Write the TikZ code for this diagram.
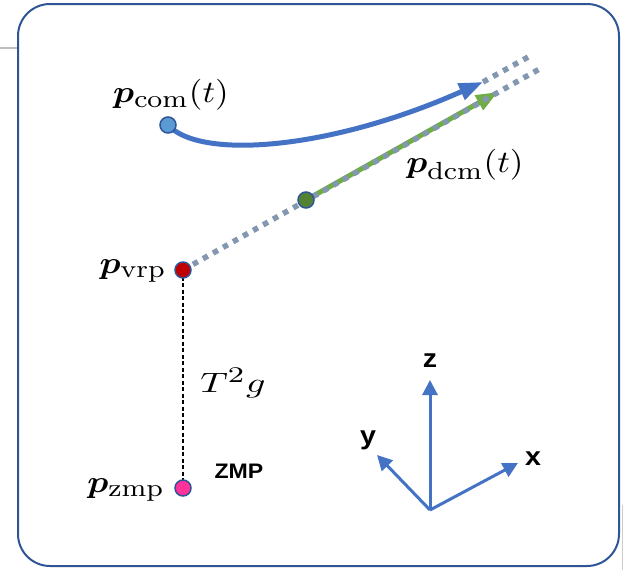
\documentclass[tikz,border=0pt]{standalone}
\usepackage{amsmath}
\usepackage{bm}
\usepackage{fontspec}
\newfontfamily\sansb{Liberation Sans}
\DeclareMathSizes{10}{10}{8}{6}
\usetikzlibrary{arrows.meta}
\definecolor{frameblue}{HTML}{2F5597}
\definecolor{curveblue}{HTML}{4472C4}
\definecolor{lightblue}{HTML}{5B9BD5}
\definecolor{dotgray}{HTML}{8497B0}
\definecolor{dcmgreen}{HTML}{70AD47}
\definecolor{darkgreen}{HTML}{548235}
\definecolor{vrpred}{HTML}{C00000}
\definecolor{zmppink}{HTML}{FF3399}
\tikzset{
  pt/.style={circle, draw=frameblue, line width=1.5pt, minimum size=16pt, inner sep=0pt},
  dotline/.style={dotgray, line width=5.5pt, dash pattern=on 5.5pt off 6pt},
  axis/.style={curveblue, line width=3pt, -{Triangle[length=15pt,width=15pt]}},
  mlabel/.style={inner sep=0pt, font=\fontsize{10}{12}\selectfont, xscale=3.5, yscale=3.1},
  tlabel/.style={inner sep=0pt, font=\fontsize{10}{12}\selectfont, xscale=3.8, yscale=2.8},
  axlabel/.style={inner sep=0pt, font=\sansb\bfseries\fontsize{26}{28}\selectfont, xscale=1.1},
}
\begin{document}
\begin{tikzpicture}[x=1pt,y=-1pt]
\useasboundingbox (0,0) rectangle (623,570);
% frame and stray lines
\draw[gray!50, line width=1.5pt] (0,48) -- (17,48);
\draw[gray!40, line width=1pt] (622,505) -- (622,570);
\draw[frameblue, line width=2pt, rounded corners=32pt] (18,4) rectangle (619,566);
% coordinates
\coordinate (com) at (168,125);
\coordinate (dcm) at (306,200);
\coordinate (vrp) at (183,270);
\coordinate (zmp) at (183,488);
\coordinate (comtip) at (483,82);
\coordinate (dcmtip) at (498,92);
\coordinate (upend) at (530,56);
\coordinate (lowend) at (543,67);
\coordinate (o) at (430,510);
\coordinate (zt) at (430,380);
\coordinate (yt) at (377,455);
\coordinate (xt) at (518,463);
% blue com trajectory
\draw[curveblue, line width=5pt, -{Triangle[length=24pt,width=17pt]}] (com) .. controls (200,160) and (330,150) .. (comtip);
% green dcm arrow
\draw[dcmgreen, line width=5pt, -{Triangle[length=22pt,width=16pt]}] (dcm) -- (dcmtip);
% dotted lines
\draw[dotline] (vrp) -- (lowend);
\draw[dotline] (comtip) -- (upend);
% dashed vertical
\draw[black, line width=1.3pt, dash pattern=on 4pt off 2.5pt] (vrp) -- (zmp);
% points
\node[pt, fill=lightblue] (ncom) at (com) {};
\node[pt, fill=darkgreen] (ndcm) at (dcm) {};
\node[pt, fill=vrpred] (nvrp) at (vrp) {};
\node[pt, fill=zmppink] (nzmp) at (zmp) {};
% labels
\node[mlabel] (lcom) at (171,95) {$\bm{p}_{\mathrm{com}}(t)$};
\node[mlabel] (ldcm) at (465,165) {$\bm{p}_{\mathrm{dcm}}(t)$};
\node[mlabel] (lvrp) at (133,271) {$\bm{p}_{\mathrm{vrp}}$};
\node[mlabel] (lzmp) at (126,490) {$\bm{p}_{\mathrm{zmp}}$};
\node[tlabel] (ltg) at (233,383) {$T^2g$};
\node[inner sep=0pt, font=\sansb\bfseries\fontsize{21}{23}\selectfont, xscale=1.1] (lzmptxt) at (239,471) {ZMP};
% axes
\draw[axis] (o) -- (zt);
\draw[axis] (o) -- (yt);
\draw[axis] (o) -- (xt);
\node[axlabel] (lz) at (430,361) {z};
\node[axlabel] (ly) at (368,440) {y};
\node[axlabel] (lx) at (533,459) {x};
\end{tikzpicture}
\end{document}
